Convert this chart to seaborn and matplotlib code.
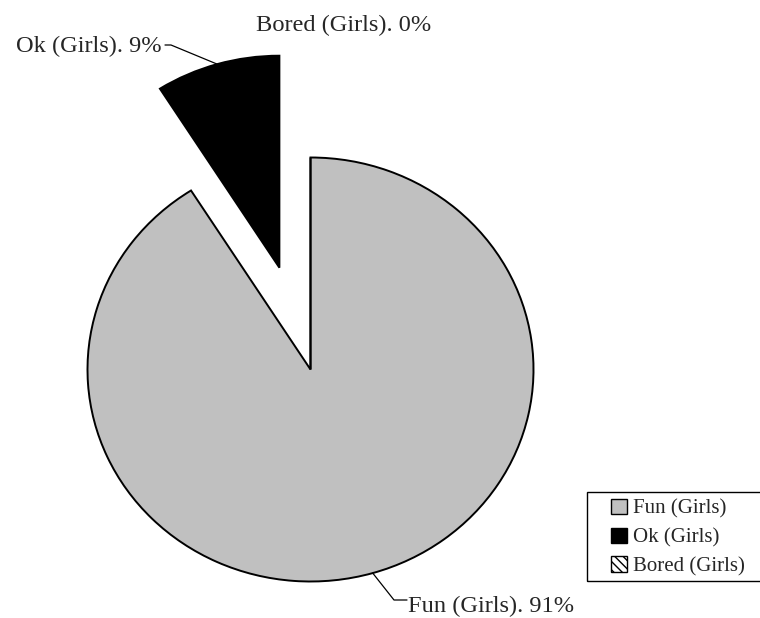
import numpy as np
import matplotlib
matplotlib.use("Agg")
import matplotlib.pyplot as plt
from matplotlib.patches import Patch, Rectangle
import seaborn as sns

# Survey answers (girls)
categories = ["Fun (Girls)", "Ok (Girls)", "Bored (Girls)"]
shares = [91, 9, 0]

sns.set_style("white")
plt.rcParams["font.family"] = ["Liberation Serif", "DejaVu Serif"]

W, H = 760, 618
fig = plt.figure(figsize=(W / 100, H / 100), dpi=100)
ax = fig.add_axes([0, 0, 1, 1])

# pixel layout of the pie: centre and radii
cx, cy = 310.5, 369.5
rx, ry = 223.0, 212.0


def to_data(px, py):
    return (px - cx) / rx, (cy - py) / ry


face = ["#c0c0c0", "#000000", "#ffffff"]
wedges, _ = ax.pie(
    shares,
    startangle=90,
    counterclock=False,
    explode=[0, 0.5, 0],
    colors=face,
    radius=1.0,
    wedgeprops=dict(edgecolor="black", linewidth=1.4),
)
wedges[2].set_hatch("\\\\\\\\")

ax.set_aspect("auto")
ax.set_xlim(to_data(0, 0)[0], to_data(W, 0)[0])
ax.set_ylim(to_data(0, H)[1], to_data(0, 0)[1])
ax.axis("off")


def anchor(w):
    t = np.deg2rad((w.theta1 + w.theta2) / 2)
    return w.center[0] + w.r * np.cos(t), w.center[1] + w.r * np.sin(t)


def label(i):
    return f"{categories[i]}. {shares[i]:.0f}%"


fs = 17.6
# Ok label with leader
ox, oy = to_data(162, 52)
ax.text(ox, oy, label(1), ha="right", va="baseline", fontsize=fs)
ax_, ay_ = anchor(wedges[1])
e1 = to_data(165, 45)
e2 = to_data(171, 45)
ax.plot([e1[0], e2[0], ax_], [e1[1], e2[1], ay_], color="black", lw=0.9)

# Fun label with leader
fx, fy = to_data(408, 612)
ax.text(fx, fy, label(0), ha="left", va="baseline", fontsize=fs)
bx_, by_ = anchor(wedges[0])
g1 = to_data(407, 600)
g2 = to_data(394, 600)
ax.plot([g1[0], g2[0], bx_], [g1[1], g2[1], by_], color="black", lw=0.9)

# Bored label (zero slice at the top)
tx, ty = to_data(256, 31)
ax.text(tx, ty, label(2), ha="left", va="baseline", fontsize=fs)

# legend
handles = [
    Patch(facecolor=face[0], edgecolor="black", linewidth=1.0),
    Patch(facecolor="black", edgecolor="black", linewidth=1.0),
    Patch(facecolor="white", edgecolor="black", linewidth=1.0, hatch="\\\\\\\\"),
]
fig.legend(
    handles,
    categories,
    loc="upper left",
    bbox_to_anchor=(611 / W, 1 - 499 / H),
    frameon=False,
    fontsize=15,
    handlelength=0.75,
    handleheight=0.75,
    handletextpad=0.3,
    labelspacing=0.42,
    borderpad=0,
    borderaxespad=0,
)
fig.patches.append(
    Rectangle((587 / W, 1 - 581 / H), (W + 5 - 587) / W, (581 - 492) / H,
              transform=fig.transFigure, fill=False, edgecolor="black", lw=1.0)
)

fig.savefig("out.png", dpi=100)
